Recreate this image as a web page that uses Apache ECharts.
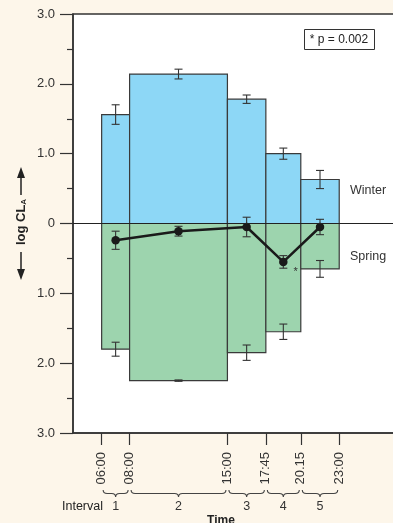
<!DOCTYPE html>
<html>
<head>
<meta charset="utf-8">
<script src="https://cdn.jsdelivr.net/npm/echarts@6/dist/echarts.min.js"></script>
<style>
html,body{margin:0;padding:0;background:#fdf6ea;}
#c{width:393px;height:523px;}
</style>
</head>
<body>
<div id="c"></div>
<script>
// Interval boundaries (hours) and labels
const timeHours = [6, 8, 15, 17.75, 20.25, 23];
const timeLabels = ['06:00', '08:00', '15:00', '17:45', '20.15', '23:00'];
const intervalLabels = ['1', '2', '3', '4', '5'];
// Winter (upward) bar heights and errors
const winterValues = [1.56, 2.14, 1.78, 1.00, 0.63];
const winterErrors = [0.14, 0.07, 0.06, 0.08, 0.13];
// Spring (downward) bar depths and errors
const springValues = [1.80, 2.25, 1.85, 1.55, 0.65];
const springErrors = [0.10, 0.01, 0.11, 0.11, 0.12];
// Difference line (plotted at interval midpoints)
const lineValues = [-0.24, -0.11, -0.05, -0.55, -0.05];
const lineErrors = [0.13, 0.07, 0.14, 0.09, 0.11];
const yTickValues = [-3, -2, -1, 0, 1, 2, 3];
const pNote = '* p = 0.002';

const mids = intervalLabels.map((_, i) => (timeHours[i] + timeHours[i + 1]) / 2);
const winterData = winterValues.map((v, i) => [timeHours[i], timeHours[i + 1], v, winterErrors[i]]);
const springData = springValues.map((v, i) => [timeHours[i], timeHours[i + 1], -v, springErrors[i]]);
const lineData = lineValues.map((v, i) => i === 3 ? {value: [mids[i], v], label: {show: true, formatter: '*', position: 'right', offset: [1, 10], fontSize: 11, color: '#333'}} : [mids[i], v]);
const lineErrData = lineValues.map((v, i) => [mids[i], v, lineErrors[i]]);
const braceData = intervalLabels.map((_, i) => [timeHours[i], timeHours[i + 1]]);

function errBar(api, x, v, err) {
  const top = api.coord([x, v + err]);
  const bot = api.coord([x, v - err]);
  const st = {stroke: '#333', lineWidth: 1.1};
  return [
    {type: 'line', shape: {x1: top[0], y1: top[1], x2: bot[0], y2: bot[1]}, style: st},
    {type: 'line', shape: {x1: top[0] - 4, y1: top[1], x2: top[0] + 4, y2: top[1]}, style: st},
    {type: 'line', shape: {x1: bot[0] - 4, y1: bot[1], x2: bot[0] + 4, y2: bot[1]}, style: st}
  ];
}

function barRender(fill) {
  return function (params, api) {
    const s = api.value(0), e = api.value(1), v = api.value(2), err = api.value(3);
    const p0 = api.coord([s, 0]);
    const p1 = api.coord([e, v]);
    const children = [{
      type: 'rect',
      shape: {x: p0[0], y: Math.min(p0[1], p1[1]), width: p1[0] - p0[0], height: Math.abs(p1[1] - p0[1])},
      style: {fill: fill, stroke: '#3a3a3a', lineWidth: 1.2}
    }].concat(errBar(api, (s + e) / 2, v, err));
    return {type: 'group', children: children};
  };
}

const chart = echarts.init(document.getElementById('c'), null, {renderer: 'canvas'});
chart.setOption({
  animation: false,
  backgroundColor: '#fdf6ea',
  textStyle: {fontFamily: 'Liberation Sans, Arial, sans-serif'},
  grid: {left: 73, top: 14, bottom: 90, right: -15.4, containLabel: false, outerBoundsMode: 'none',
    show: true, backgroundColor: '#ffffff', borderColor: '#333', borderWidth: 1.5},
  xAxis: {
    type: 'value', min: 3.95, max: 27.95,
    splitLine: {show: false},
    axisLine: {show: true, onZero: false, lineStyle: {color: '#333', width: 1.5}},
    axisTick: {show: true, customValues: timeHours, length: 12, lineStyle: {color: '#333', width: 1.2}},
    axisLabel: {
      customValues: timeHours, rotate: 90, margin: 19, fontSize: 13, color: '#333',
      formatter: function (v) { const i = timeHours.indexOf(v); return i >= 0 ? timeLabels[i] : ''; }
    }
  },
  yAxis: {
    type: 'value', min: -3, max: 3, interval: 1,
    splitLine: {show: false},
    axisLine: {show: true, onZero: false, lineStyle: {color: '#333', width: 1.5}},
    axisTick: {show: true, length: 13, lineStyle: {color: '#333', width: 1.2}},
    minorTick: {show: true, splitNumber: 2, length: 6, lineStyle: {color: '#333', width: 1.2}},
    axisLabel: {
      margin: 18, fontSize: 13, color: '#333',
      formatter: function (v) { return v === 0 ? '0' : Math.abs(v).toFixed(1); }
    }
  },
  series: [
    {type: 'custom', name: 'Winter', data: winterData, encode: {x: [0, 1], y: 2}, renderItem: barRender('#8dd7f6'), z: 2},
    {type: 'custom', name: 'Spring', data: springData, encode: {x: [0, 1], y: 2}, renderItem: barRender('#9dd4ae'), z: 2,
      markLine: {silent: true, symbol: 'none', label: {show: false}, lineStyle: {color: '#222', width: 1, type: 'solid'}, data: [{yAxis: 0}]}},
    {type: 'custom', name: 'LineErr', data: lineErrData, encode: {x: 0, y: 1}, z: 3,
      renderItem: function (params, api) {
        return {type: 'group', children: errBar(api, api.value(0), api.value(1), api.value(2))};
      }},
    {type: 'line', name: 'Difference', data: lineData, z: 4, symbol: 'circle', symbolSize: 8.5,
      itemStyle: {color: '#1a1a1a'}, lineStyle: {color: '#1a1a1a', width: 2.5}},
    {type: 'custom', name: 'Braces', data: braceData, encode: {x: [0, 1]}, z: 5, clip: false,
      renderItem: function (params, api) {
        const a = api.coord([api.value(0), -3]);
        const b = api.coord([api.value(1), -3]);
        const x0 = a[0] + 1.5, x1 = b[0] - 1.5, m = (a[0] + b[0]) / 2;
        const yb = a[1];
        const y0 = yb + 57, y1 = yb + 60.5, y2 = yb + 64;
        const path = 'M' + x0 + ' ' + y0 + ' Q' + x0 + ' ' + y1 + ' ' + (x0 + 4) + ' ' + y1 +
          ' L' + (m - 4) + ' ' + y1 + ' Q' + m + ' ' + y1 + ' ' + m + ' ' + y2 +
          ' Q' + m + ' ' + y1 + ' ' + (m + 4) + ' ' + y1 + ' L' + (x1 - 4) + ' ' + y1 +
          ' Q' + x1 + ' ' + y1 + ' ' + x1 + ' ' + y0;
        return {type: 'group', children: [
          {type: 'path', shape: {pathData: path}, style: {fill: null, stroke: '#444', lineWidth: 1.1}},
          {type: 'text', x: m, y: yb + 74, style: {text: intervalLabels[params.dataIndex], fontSize: 12.5, fill: '#333', align: 'center', verticalAlign: 'middle', fontFamily: 'Liberation Sans, Arial, sans-serif'}}
        ]};
      }}
  ],
  graphic: [
    {type: 'rect', left: 304, top: 29, shape: {width: 70, height: 20}, style: {fill: '#fff', stroke: '#333', lineWidth: 1}, z: 10},
    {type: 'text', x: 339, y: 39.5, style: {text: pNote, fontSize: 12, fill: '#222', align: 'center', verticalAlign: 'middle', fontFamily: 'Liberation Sans, Arial, sans-serif'}, z: 11},
    {type: 'text', x: 350, y: 191, style: {text: 'Winter', fontSize: 12.5, fill: '#333', align: 'left', verticalAlign: 'middle', fontFamily: 'Liberation Sans, Arial, sans-serif'}, z: 10},
    {type: 'text', x: 350, y: 257, style: {text: 'Spring', fontSize: 12.5, fill: '#333', align: 'left', verticalAlign: 'middle', fontFamily: 'Liberation Sans, Arial, sans-serif'}, z: 10},
    {type: 'text', x: 62, y: 507, style: {text: 'Interval', fontSize: 12.5, fill: '#222', align: 'left', verticalAlign: 'middle', fontFamily: 'Liberation Sans, Arial, sans-serif'}, z: 10},
    {type: 'text', x: 221, y: 521, style: {text: 'Time', fontSize: 12, fontWeight: 'bold', fill: '#222', align: 'center', verticalAlign: 'middle', fontFamily: 'Liberation Sans, Arial, sans-serif'}, z: 10},
    // y-axis title with arrows
    {type: 'text', x: 21, y: 222, rotation: Math.PI / 2,
      style: {text: '{a|log CL}{s|A}', align: 'center', verticalAlign: 'middle', fill: '#222',
        rich: {a: {fontSize: 13, fontWeight: 'bold', fontFamily: 'Liberation Sans, Arial, sans-serif', fill: '#222'},
               s: {fontSize: 8, fontWeight: 'bold', fontFamily: 'Liberation Sans, Arial, sans-serif', fill: '#222', verticalAlign: 'bottom', padding: [6, 0, 0, 0]}}}, z: 10},
    {type: 'line', shape: {x1: 21, y1: 195, x2: 21, y2: 176}, style: {stroke: '#222', lineWidth: 1.5}, z: 10},
    {type: 'polygon', shape: {points: [[21, 167], [17, 178], [25, 178]]}, style: {fill: '#222'}, z: 10},
    {type: 'line', shape: {x1: 21, y1: 252, x2: 21, y2: 271}, style: {stroke: '#222', lineWidth: 1.5}, z: 10},
    {type: 'polygon', shape: {points: [[21, 280], [17, 269], [25, 269]]}, style: {fill: '#222'}, z: 10}
  ]
});
</script>
</body>
</html>
